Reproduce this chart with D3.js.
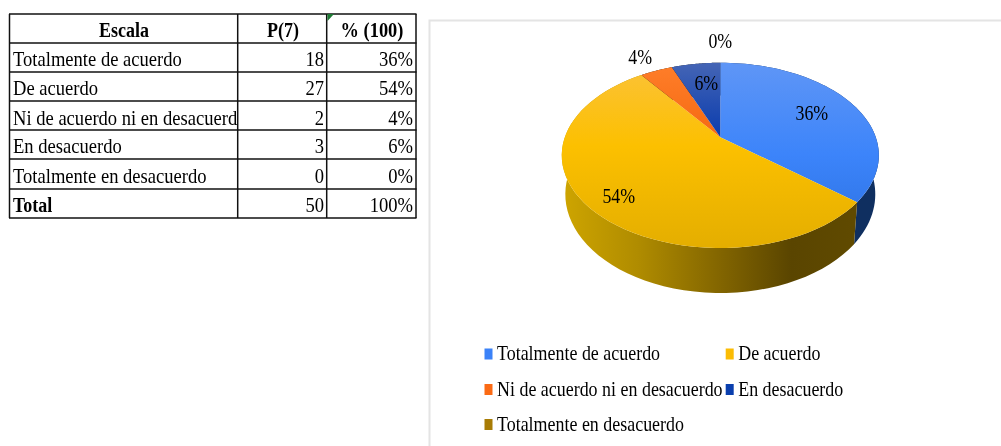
<!DOCTYPE html>
<html><head><meta charset="utf-8">
<script src="https://cdn.jsdelivr.net/npm/d3@7"></script>
<style>html,body{margin:0;padding:0;background:#fff}svg{display:block;filter:blur(.55px)}text{font-family:"Liberation Serif",serif;fill:#000}</style>
</head><body><svg id="c" width="1001" height="446"></svg>
<script>
const categories=["Totalmente de acuerdo","De acuerdo","Ni de acuerdo ni en desacuerdo","En desacuerdo","Totalmente en desacuerdo"];
const counts=[18,27,2,3,0];
const percents=["36%","54%","4%","6%","0%"];
const totalLabels=["Total","50","100%"];
const headers=["Escala","P(7)","% (100)"];
const colors=["#3b82f8","#fbbc04","#fb6a14","#0a3fae","#a87c05"];

const svg=d3.select("#c"),defs=svg.append("defs");
function put(g,s,x,y,o={}){const fs=o.fs||21,sx=o.sx||.885;
  return g.append("text").text(s).attr("transform",`translate(${x},${y}) scale(${sx},1)`)
   .attr("font-size",fs).attr("text-anchor",o.anchor||"start").attr("font-weight",o.bold?"bold":"normal");}

/* table */
const colX=[9.5,237.7,326.7,416], rowY=[14,43,72,101,130,159,189,218], base=[37,66,95,125,153,183,212];
const t=svg.append("g");
defs.append("clipPath").attr("id","c0").append("rect").attr("x",colX[0]).attr("y",14).attr("width",colX[1]-colX[0]).attr("height",204);
t.append("g").selectAll("line").data(rowY).join("line").attr("x1",colX[0]-.5).attr("x2",colX[3]+.5).attr("y1",d=>d).attr("y2",d=>d).attr("stroke","#111").attr("stroke-width",1.5);
t.append("g").selectAll("line").data(colX).join("line").attr("x1",d=>d).attr("x2",d=>d).attr("y1",rowY[0]).attr("y2",rowY[7]).attr("stroke","#111").attr("stroke-width",1.5);
t.append("path").attr("d","M327.5,14H334L327.5,21Z").attr("fill","#1e7a34");
put(t,headers[0],124,base[0],{anchor:"middle",bold:1,fs:20,sx:.9});
put(t,headers[1],283,base[0],{anchor:"middle",bold:1,fs:20,sx:.9});
put(t,headers[2],372,base[0],{anchor:"middle",bold:1,fs:20,sx:.92});
const body=t.append("g").attr("clip-path","url(#c0)");
categories.forEach((c,i)=>{
  put(body,c,13,base[i+1]);
  put(t,String(counts[i]),324,base[i+1],{anchor:"end"});
  put(t,percents[i],413,base[i+1],{anchor:"end"});
});
put(t,totalLabels[0],13,base[6],{bold:1,fs:20,sx:.9});
put(t,totalLabels[1],324,base[6],{anchor:"end"});
put(t,totalLabels[2],413,base[6],{anchor:"end"});

/* chart frame */
svg.append("path").attr("d","M429.5,446V20.5H1001").attr("fill","none").attr("stroke","#e4e4e4").attr("stroke-width",2);

/* perspective projection of the pie disk */
const cx=720.3,k=.195;
const upper={b:155.5,a:89.1,y:137.3}, low={b:152,a:95,y:175};
const proj=(d,th,f=1)=>{const u=f*Math.sin(th),v=f*Math.cos(th),w=1+k*v;return [cx+d.b*u/w,d.y-d.a*v/w];};
const arcs=d3.pie().sort(null).startAngle(0).endAngle(2*Math.PI)(counts);
const samp=(a0,a1)=>d3.range(0,61).map(i=>a0+(a1-a0)*i/60);
const line=d3.line();

const topStops=[
 [["#5f96f6",0],["#3c84fa",.5],["#2a6fdf",1]],
 [["#fbc23a",0],["#fcc000",.45],["#e4ae00",1]],
 [["#ff7e2a",0],["#f56a12",1]],
 [["#4565b5",0],["#0a3cae",1]],
 [["#a87c05",0],["#a87c05",1]]];
topStops.forEach((st,i)=>{
  const g=defs.append("linearGradient").attr("id","t"+i).attr("gradientUnits","userSpaceOnUse").attr("x1",0).attr("x2",0);
  if(i==2||i==3){g.attr("y1",62).attr("y2",137);}else{g.attr("y1",62).attr("y2",248);}
  st.forEach(s=>g.append("stop").attr("offset",s[1]).attr("stop-color",s[0]));
});
const wy=defs.append("linearGradient").attr("id","wy").attr("gradientUnits","userSpaceOnUse").attr("x1",565).attr("x2",855).attr("y1",0).attr("y2",0);
[[0,"#cda400"],[.25,"#b08c00"],[.55,"#806300"],[.78,"#5a4500"],[1,"#604a00"]].forEach(s=>wy.append("stop").attr("offset",s[0]).attr("stop-color",s[1]));

const pie=svg.append("g");
/* outer walls, only the two front slices show */
pie.selectAll("path.w").data(arcs.filter(d=>d.value>0)).join("path").attr("class","w")
 .attr("d",d=>{const s=samp(d.startAngle,d.endAngle);
   return line([...s.map(a=>proj(upper,a)),...s.slice().reverse().map(a=>proj(low,a))])+"Z";})
 .attr("fill",d=>d.index==1?"url(#wy)":d.index==0?"#0f2f60":"#222");
/* top faces */
pie.selectAll("path.t").data(arcs.filter(d=>d.value>0)).join("path").attr("class","t")
 .attr("d",d=>line([[cx,upper.y],...samp(d.startAngle,d.endAngle).map(a=>proj(upper,a))])+"Z")
 .attr("fill",d=>`url(#t${d.index})`);

/* data labels */
const labelR=[.68,.8,1.25,.7,1.36], labelNudge=[[1,0],[0,4],[-3,0],[4,0],[0,-1]];
arcs.forEach((d,i)=>{
  const val=d.value>0?(d.startAngle+d.endAngle)/2:2*Math.PI;
  const p=proj(upper,val,labelR[i]);
  put(svg,percents[i],p[0]+labelNudge[i][0],p[1]+labelNudge[i][1]+7,{anchor:"middle",sx:.85});
});

/* legend */
const legX=[484.5,725.7], legY=[353.5,389,424];
const legPos=[[0,0],[1,0],[0,1],[1,1],[0,2]];
categories.forEach((c,i)=>{
  const [cc,r]=legPos[i];
  svg.append("rect").attr("x",legX[cc]).attr("y",legY[r]-5).attr("width",8).attr("height",11).attr("fill",colors[i]);
  put(svg,c,legX[cc]+12.5,legY[r]+6.5,{sx:.855});
});
</script></body></html>
